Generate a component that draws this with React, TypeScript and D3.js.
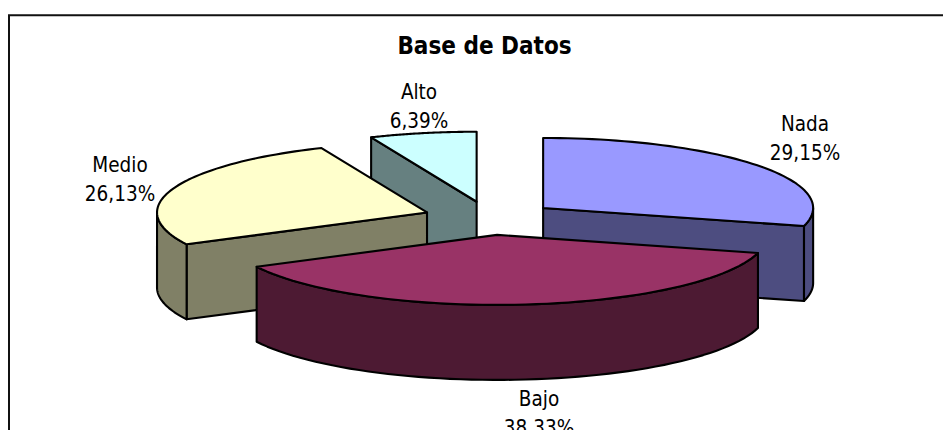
import React from "react";
import * as d3 from "d3";

const width = 943;
const height = 430;

const categories = ["Nada", "Bajo", "Medio", "Alto"];
const values = [29.15, 38.33, 26.13, 6.39];
const valueLabels = ["29,15%", "38,33%", "26,13%", "6,39%"];
const topColors = ["#9999ff", "#993366", "#ffffcc", "#ccffff"];
const sideColors = ["#4d4d80", "#4d1a33", "#808066", "#668080"];

// pie geometry
const cx = 490;
const cy = 218.2;
const rx = 270;
const ry = 70;
const depth = 75;
const explodeX = 67;
const explodeY = 16.8;

// where each label sits: x centre, first baseline
const labelPos: [number, number][] = [
  [805, 131],
  [539, 406],
  [120, 172],
  [419, 99],
];

const fontFamily = "'DejaVu Sans Condensed', 'DejaVu Sans', sans-serif";
const line = d3.line();

const App = () => {
  const slices = d3
    .pie<number>()
    .sort(null)
    .startAngle(0)
    .endAngle(2 * Math.PI)(values);

  // back slices first so the front ones cover them
  const drawOrder = [3, 0, 2, 1];

  return (
    <svg
      width={width}
      height={height}
      style={{ position: "absolute", left: 0, top: 0, background: "#fff" }}
    >
      <path d={`M9,${height}V15.2H${width}`} fill="none" stroke="#111" strokeWidth={2} />
      <text
        x={484.5}
        y={53.5}
        textAnchor="middle"
        fontFamily={fontFamily}
        fontWeight="bold"
        fontSize={24}
      >
        Base de Datos
      </text>

      {drawOrder.map((i) => {
        const s = slices[i];
        const mid = (s.startAngle + s.endAngle) / 2;
        const ax = cx + explodeX * Math.sin(mid);
        const ay = cy - explodeY * Math.cos(mid);
        const pt = (a: number): [number, number] => [
          ax + rx * Math.sin(a),
          ay - ry * Math.cos(a),
        ];
        const down = (p: [number, number]): [number, number] => [p[0], p[1] + depth];
        const sweep = (a0: number, a1: number) =>
          d3.range(0, 61).map((k) => pt(a0 + ((a1 - a0) * k) / 60));

        const apex: [number, number] = [ax, ay];
        const rim = sweep(s.startAngle, s.endAngle);
        const walls: string[] = [];

        if (Math.sin(s.startAngle) < -1e-6) {
          const p = pt(s.startAngle);
          walls.push(line([apex, p, down(p), down(apex)])! + "Z");
        }
        if (Math.sin(s.endAngle) > 1e-6) {
          const p = pt(s.endAngle);
          walls.push(line([apex, p, down(p), down(apex)])! + "Z");
        }
        const a0 = Math.max(s.startAngle, Math.PI / 2);
        const a1 = Math.min(s.endAngle, (3 * Math.PI) / 2);
        if (a1 > a0) {
          const front = sweep(a0, a1);
          walls.push(line([...front, ...front.map(down).reverse()])! + "Z");
        }

        return (
          <g key={categories[i]} stroke="#000" strokeWidth={2.1} strokeLinejoin="round">
            {walls.map((d, k) => (
              <path key={k} d={d} fill={sideColors[i]} />
            ))}
            <path d={line([apex, ...rim])! + "Z"} fill={topColors[i]} />
          </g>
        );
      })}

      {categories.map((c, i) => (
        <text
          key={c}
          textAnchor="middle"
          fontFamily={fontFamily}
          fontSize={20.5}
          fill="#000"
        >
          <tspan x={labelPos[i][0]} y={labelPos[i][1]}>
            {c}
          </tspan>
          <tspan x={labelPos[i][0]} y={labelPos[i][1] + 28.6}>
            {valueLabels[i]}
          </tspan>
        </text>
      ))}
    </svg>
  );
};

export default App;
